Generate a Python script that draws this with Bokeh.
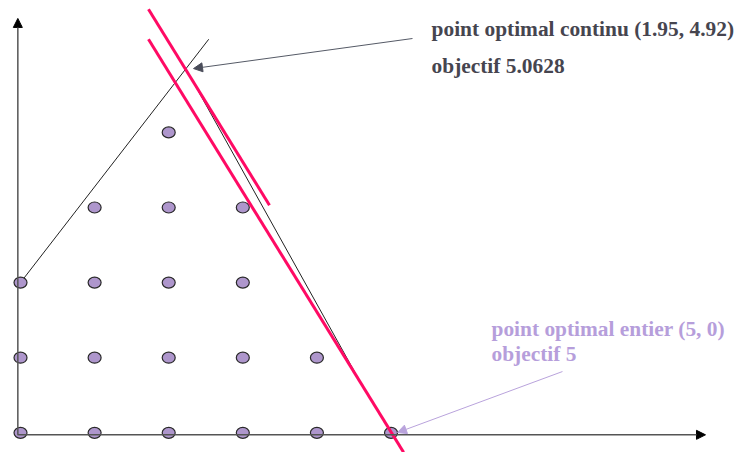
from bokeh.plotting import figure
from bokeh.models import Range1d, Arrow, NormalHead
from bokeh.core.properties import value
from bokeh.embed import file_html
from bokeh.resources import INLINE

# integer lattice points
pts_x = [0, 1, 2, 3, 4, 5, 0, 1, 2, 3, 4, 0, 1, 2, 3, 1, 2, 3, 2]
pts_y = [0, 0, 0, 0, 0, 0, 1, 1, 1, 1, 1, 2, 2, 2, 2, 3, 3, 3, 4]

# constraint lines (black)
c1_x = [0.0, 2.54]
c1_y = [2.0, 5.24]
c2_x = [2.23, 4.521]
c2_y = [4.85, 0.79]

# objective lines (red)
o1_x = [1.727, 3.36]
o1_y = [5.64, 3.03]
o2_x = [1.727, 5.17]
o2_y = [5.24, -0.26]

# optima
cont_opt = (2.335, 4.85)
int_opt = (5.088, 0.004)
cont_label = ["point optimal continu (1.95, 4.92)", "objectif 5.0628"]
int_label = ["point optimal entier (5, 0)", "objectif 5"]

p = figure(width=735, height=452, x_range=Range1d(-0.270, 9.649), y_range=Range1d(-0.262, 5.756),
           output_backend="svg", toolbar_location=None, min_border=0,
           x_axis_location=None, y_axis_location=None)
p.grid.visible = False
p.outline_line_color = None
p.background_fill_color = "white"

# axes with arrows
axc = "#555555"
p.add_layout(Arrow(x_start=-0.0405, y_start=-0.0266, x_end=9.244, y_end=-0.0266,
                   line_color=axc, line_width=1.5,
                   end=NormalHead(size=9, fill_color="black", line_color="black")))
p.add_layout(Arrow(x_start=-0.036, y_start=-0.0266, x_end=-0.036, y_end=5.517,
                   line_color=axc, line_width=1.5,
                   end=NormalHead(size=9, fill_color="black", line_color="black")))

# constraint lines
p.line(c1_x, c1_y, line_color="#222222", line_width=1)
p.line(c2_x, c2_y, line_color="#222222", line_width=1)

# lattice points
p.ellipse(pts_x, pts_y, width=0.1754, height=0.1465, fill_color="#ae96cc",
          line_color="#2a2a2a", line_width=1.2)

# objective lines
p.line(o1_x, o1_y, line_color="#ff0a64", line_width=3)
p.line(o2_x, o2_y, line_color="#ff0a64", line_width=3)

# annotation arrows
p.add_layout(Arrow(x_start=5.29, y_start=5.25, x_end=cont_opt[0], y_end=cont_opt[1],
                   line_color="#555a66", line_width=1,
                   end=NormalHead(size=9, fill_color="#4a4d5a", line_color="#4a4d5a")))
p.add_layout(Arrow(x_start=7.314, y_start=0.816, x_end=int_opt[0], y_end=int_opt[1],
                   line_color="#b9a3dc", line_width=1,
                   end=NormalHead(size=9, fill_color="#b9a3dc", line_color="#b9a3dc")))

# labels
font = value("Liberation Serif")
p.text([5.547, 5.547], [5.370, 4.884], text=cont_label, text_font=font, text_font_style="bold",
       text_font_size="21.4px", text_color="#46454f", text_baseline="alphabetic", text_align="left")
p.text([6.356, 6.356], [1.376, 1.056], text=int_label, text_font=font, text_font_style="bold",
       text_font_size="21.4px", text_color="#b69edb", text_baseline="alphabetic", text_align="left")

open("out.html", "w").write(file_html(p, INLINE))
